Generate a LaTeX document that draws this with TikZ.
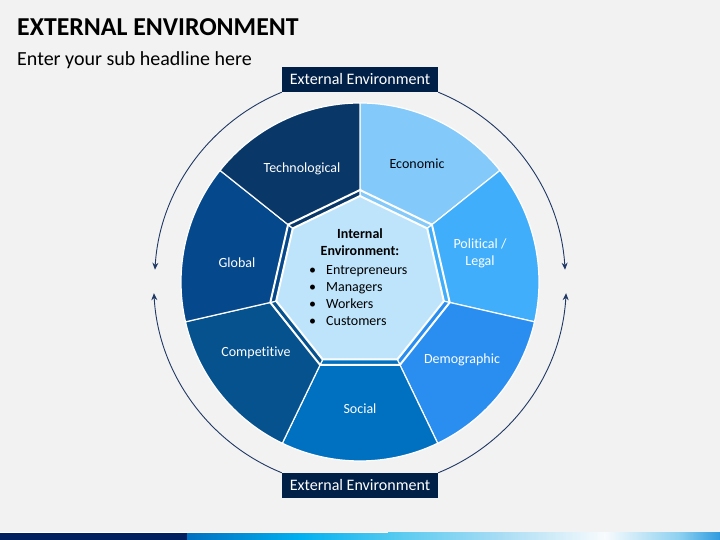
\documentclass[tikz,border=0pt]{standalone}
\usepackage{fontspec}
\setmainfont{Carlito}[Ligatures=NoCommon]
\usetikzlibrary{arrows.meta}

\definecolor{bg}{RGB}{242,242,242}
\definecolor{navy}{RGB}{0,32,71}
\definecolor{barnavy}{RGB}{0,32,96}
\definecolor{arcblue}{RGB}{31,56,100}
\definecolor{techno}{RGB}{9,55,104}
\definecolor{econ}{RGB}{131,201,250}
\definecolor{polit}{RGB}{64,174,250}
\definecolor{demo}{RGB}{42,142,240}
\definecolor{social}{RGB}{0,112,192}
\definecolor{compet}{RGB}{6,82,142}
\definecolor{global}{RGB}{6,72,140}
\definecolor{core}{RGB}{190,228,252}

\begin{document}
\begin{tikzpicture}[x=1pt, y=1pt,
        segment/.style={draw=white, line width=1.2pt},
        seglabel/.style={text=white, font=\fontsize{14}{17}\selectfont, align=center},
        intext/.style={font=\fontsize{14}{16.7}\selectfont, inner sep=0pt},
        envbox/.style={fill=navy, text=white, font=\fontsize{16}{18}\selectfont,
          minimum width=156pt, minimum height=25pt, inner sep=0pt},
        looparrow/.style={draw=arcblue, line width=0.9pt, -{Stealth[length=7pt,width=6pt]}}
      ]
      % page
      \fill[bg] (0,0) rectangle (720,540);
      \useasboundingbox (0,0) rectangle (720,540);
      \node[anchor=base west, inner sep=0pt, font=\fontsize{25.8}{30}\selectfont\bfseries] (title) at (17,504) {EXTERNAL ENVIRONMENT};
      \node[anchor=base west, inner sep=0pt, font=\fontsize{20}{24}\selectfont] (subtitle) at (17,474) {Enter your sub headline here};

      % wheel
      \begin{scope}[shift={(360,258)}]
        \foreach \col [count=\k from 0] in {econ,polit,demo,social,compet,global,techno}{
          \pgfmathsetmacro{\a}{90-\k*360/7}
          \pgfmathsetmacro{\b}{90-(\k+1)*360/7}
          \filldraw[segment, fill=\col] (\a:80) -- (\a:179) arc[start angle=\a, end angle=\b, radius=179] -- (\b:80) -- cycle;
        }
        \draw[white, line width=2pt] plot[samples=8, domain=90:450] (\x:92) -- cycle;
        \filldraw[fill=core, draw=white, line width=2pt] plot[samples=8, domain=90:450] (\x:86) -- cycle;
      \end{scope}

      \node[seglabel] (technological) at (302,371) {Technological};
      \node[seglabel, text=black!85!navy] (economic) at (417,376) {Economic};
      \node[seglabel] (political) at (480,286.5) {Political /\\Legal};
      \node[seglabel] (global) at (237,277) {Global};
      \node[seglabel] (competitive) at (256,187) {Competitive};
      \node[seglabel] (social) at (360,131) {Social};
      \node[seglabel] (demographic) at (462,180) {Demographic};

      % core
      \node[intext, align=center, font=\fontsize{14}{17}\selectfont\bfseries] (internal) at (360,297.5) {Internal\\Environment:};
      \foreach \item [count=\i] in {Entrepreneurs,Managers,Workers,Customers}
        \node[intext, anchor=base west] (item\i) at (309,{265-16.7*(\i-1)}) {\makebox[17pt][l]{\textbullet}\item};

      % external
      \node[envbox] (topbox) at (360,460.5) {External Environment};
      \node[envbox] (bottombox) at (360,54.5) {External Environment};
      \draw[looparrow] (topbox.south west) arc[start angle=112.3, end angle=176.6, radius=205];
      \draw[looparrow] (topbox.south east) arc[start angle=67.7, end angle=3.4, radius=205];
      \draw[looparrow] (bottombox.north west) arc[start angle=247.8, end angle=183.1, radius=206];
      \draw[looparrow] (bottombox.north east) arc[start angle=292.2, end angle=356.9, radius=206];

      % bottom bar
      \fill[barnavy] (0,0) rectangle (187,7);
      \fill[left color={rgb,255:red,0;green,112;blue,192}, right color={rgb,255:red,0;green,176;blue,240}] (187,0) rectangle (300,7);
      \fill[left color={rgb,255:red,0;green,176;blue,240}, right color={rgb,255:red,90;green,203;blue,240}] (299.5,0) rectangle (400,7);
      \fill[left color={rgb,255:red,90;green,203;blue,240}, right color={rgb,255:red,168;green,220;blue,244}] (399.5,0) rectangle (500,7);
      \fill[left color={rgb,255:red,168;green,220;blue,244}, right color={rgb,255:red,248;green,251;blue,253}] (499.5,0) rectangle (605,7);
      \fill[left color={rgb,255:red,248;green,251;blue,253}, right color={rgb,255:red,140;green,208;blue,240}] (604.5,0) rectangle (680,7);
      \fill[left color={rgb,255:red,140;green,208;blue,240}, right color={rgb,255:red,46;green,155;blue,223}] (679.5,0) rectangle (720,7);
      \draw[white, line width=0.8pt] (0,8) -- (388,8);
    \end{tikzpicture}
\end{document}
